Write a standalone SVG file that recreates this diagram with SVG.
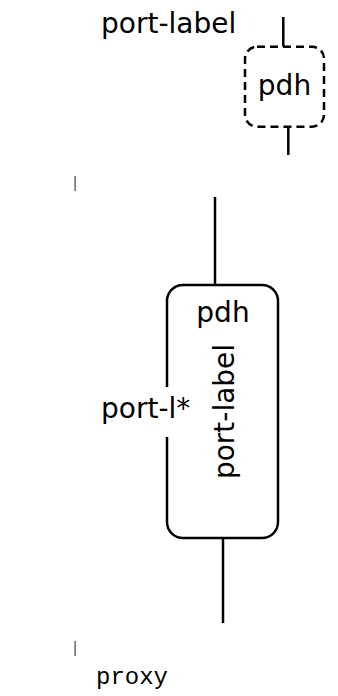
<svg xmlns="http://www.w3.org/2000/svg" width="338" height="696" viewBox="0 0 338 696">
<style>
.sans{font-family:"DejaVu Sans",sans-serif;font-size:28px;fill:#000}
.mono{font-family:"Liberation Mono",monospace;fill:#000}
.box{fill:#fff;stroke:#000;stroke-width:2.5}
.dash{stroke-dasharray:8 5}
.conn{stroke:#000;stroke-width:2.5;fill:none}
.tick{font-family:"Liberation Mono",monospace;font-size:16px;fill:#555}
</style>
<rect width="338" height="696" fill="#fff"/>
<g id="connectors">
<line class="conn" x1="283.3" y1="17" x2="283.3" y2="46.7"/>
<line class="conn" x1="288.3" y1="126.7" x2="288.3" y2="155"/>
<line class="conn" x1="215" y1="197" x2="215" y2="285"/>
<line class="conn" x1="223" y1="538" x2="223" y2="623"/>
</g>
<g id="top-port-label">
<text class="sans" x="101" y="33">port-label</text>
</g>
<g id="pdh-dashed">
<rect class="box dash" x="245" y="46.7" width="79" height="80" rx="12"/>
<text class="sans" x="284.5" y="95" text-anchor="middle">pdh</text>
</g>
<g id="tick-top">
<text class="tick" x="70.2" y="188">|</text>
</g>
<g id="pdh-main">
<rect class="box" x="167" y="285" width="111" height="253" rx="16"/>
<text class="sans" x="223" y="321.7" text-anchor="middle">pdh</text>
<text class="sans" transform="translate(234,411.5) rotate(-90)" text-anchor="middle">port-label</text>
</g>
<g id="port-l">
<rect x="101" y="387" width="90" height="50" fill="#fff"/>
<text class="sans" x="101" y="418">port-l*</text>
</g>
<g id="tick-bottom">
<text class="tick" x="70.2" y="653">|</text>
</g>
<g id="proxy">
<text class="mono" x="96" y="684" font-size="24">proxy</text>
</g>
</svg>
